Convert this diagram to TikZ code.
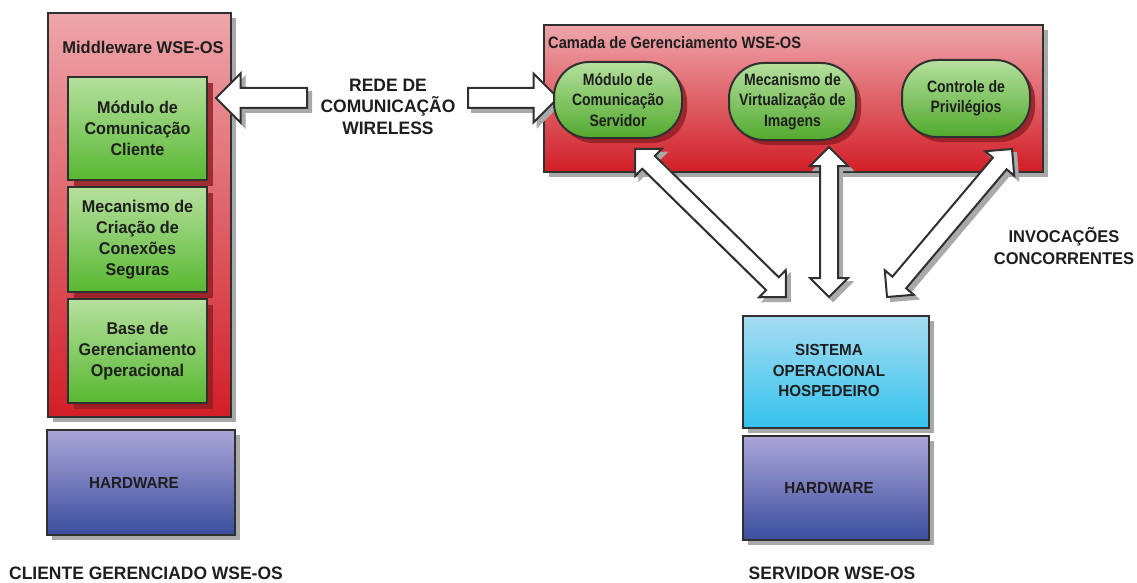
\documentclass[tikz,border=0pt]{standalone}
\usepackage{fontspec}
\setmainfont{Liberation Sans}
\usetikzlibrary{shapes.arrows,shadows,calc}

\definecolor{edge}{HTML}{303030}
\definecolor{ink}{HTML}{1E1E1E}
\definecolor{redtop}{HTML}{EDA6AB}
\definecolor{redbot}{HTML}{D21E27}
\definecolor{redshadow}{HTML}{8F1C22}
\definecolor{greentop}{HTML}{B6E09E}
\definecolor{greenbot}{HTML}{58B832}
\definecolor{bluetop}{HTML}{A6DDF0}
\definecolor{bluebot}{HTML}{35C2EE}
\definecolor{hwtop}{HTML}{ABA5D8}
\definecolor{hwbot}{HTML}{3A4E9E}
\definecolor{shadowgray}{HTML}{A9A9A9}

% bold face squeezed horizontally by #3
\newcommand\lblfont[3]{\fontsize{#1}{#2}\selectfont\bfseries\addfontfeature{FakeStretch=#3}}

% draws a white block arrow (with a flat grey shadow) from #3 to #4
\newcommand\blockarrow[4]{%
  \path let \p1=(#3), \p2=(#4),
            \n1={atan2(\y2-\y1,\x2-\x1)},
            \n2={veclen(\x2-\x1,\y2-\y1)} in
    node[#1, arrshade, minimum height=\n2, rotate=\n1] (#2-shadow) at ($(#3)!0.5!(#4)+(4,4)$) {}
    node[#1, arrface, minimum height=\n2, rotate=\n1] (#2) at ($(#3)!0.5!(#4)$) {};}

\tikzset{
  txt/.style={text=ink, font=\lblfont{17}{21}{0.96}, align=center, inner sep=0pt},
  layer/.style={draw=edge, line width=2pt, top color=redtop, bottom color=redbot,
    drop shadow={shadow xshift=5pt, shadow yshift=-5pt, fill=shadowgray, opacity=1}},
  module/.style={draw=edge, line width=2pt, top color=greentop, bottom color=greenbot,
    minimum width=139pt, text=ink, font=\lblfont{17}{21}{0.95}, align=center,
    drop shadow={shadow xshift=6pt, shadow yshift=-6pt, fill=redshadow, opacity=0.8}},
  service/.style={draw=edge, line width=2pt, top color=greentop, bottom color=greenbot!92!black,
    rounded corners=35pt, text=ink, align=center, font=\lblfont{16.5}{20.5}{0.85},
    drop shadow={shadow xshift=5pt, shadow yshift=-5pt, fill=redshadow, opacity=0.8}},
  hostos/.style={draw=edge, line width=2pt, top color=bluetop, bottom color=bluebot,
    drop shadow={shadow xshift=5pt, shadow yshift=-5pt, fill=shadowgray, opacity=1}},
  hardware/.style={draw=edge, line width=2pt, top color=hwtop, bottom color=hwbot,
    drop shadow={shadow xshift=5pt, shadow yshift=-5pt, fill=shadowgray, opacity=1}},
  boxtext/.style={text=ink, align=center, inner sep=0pt, font=\lblfont{16}{20.5}{0.95}},
  netarrow/.style={single arrow, single arrow head extend=14.5pt, single arrow tip angle=90,
    inner ysep=9pt, inner xsep=0pt, outer sep=0pt},
  callarrow/.style={double arrow, double arrow head extend=10pt, double arrow tip angle=90,
    inner ysep=8pt, inner xsep=0pt, outer sep=0pt},
  arrface/.style={draw=edge, line width=2pt, fill=white},
  arrshade/.style={draw=shadowgray, line width=2pt, fill=shadowgray},
}

\begin{document}
\begin{tikzpicture}[x=1pt, y=-1pt]
  \useasboundingbox (0,0) rectangle (1137,583);
  \fill[white] (0,0) rectangle (1137,583);

  % ---------- managed client ----------
  \node[layer, minimum width=183pt, minimum height=404pt] (mw) at (139.5,215) {};
  \node[txt, font=\lblfont{17}{21}{0.97}] (mwtitle) at (143,47) {Middleware WSE-OS};
  \node[module, minimum height=103pt] (cli) at (137.5,128.5) {Módulo de\\Comunicação\\Cliente};
  \node[module, minimum height=105pt] (sec) at (137.5,239.5) {Mecanismo de\\Criação de\\Conexões\\Seguras};
  \node[module, minimum height=104pt] (ops) at (137.5,351) {Base de\\Gerenciamento\\Operacional};
  \node[hardware, minimum width=188pt, minimum height=105pt] (hwc) at (141,482.5) {};
  \node[boxtext] (hwctext) at (134,483) {HARDWARE};
  \node[txt, font=\lblfont{18}{21}{0.97}] (client) at (146,573) {CLIENTE GERENCIADO WSE-OS};

  % ---------- server management layer ----------
  \node[layer, minimum width=499pt, minimum height=147pt] (mgmt) at (793.5,98.5) {};
  \node[txt, anchor=west, font=\lblfont{16.5}{20}{0.89}] (mgmttitle) at (548,43) {Camada de Gerenciamento WSE-OS};

  % ---------- wireless link ----------
  \coordinate (wlL) at (312,98);
  \coordinate (wlLtip) at (221,98);
  \coordinate (wlR) at (463,98);
  \coordinate (wlRtip) at (553,98);
  \blockarrow{netarrow}{netleft}{wlL}{wlLtip}
  \blockarrow{netarrow}{netright}{wlR}{wlRtip}
  \node[txt, font=\lblfont{18}{21.5}{0.97}] (net) at (388,106.5) {REDE DE\\COMUNICAÇÃO\\WIRELESS};

  % ---------- server services ----------
  \node[service, minimum width=128pt, minimum height=76pt] (srv) at (618,100) {Módulo de\\Comunicação\\Servidor};
  \node[service, minimum width=127pt, minimum height=77pt] (virt) at (792.5,101.5) {Mecanismo de\\Virtualização de\\Imagens};
  \node[service, minimum width=128pt, minimum height=77pt] (priv) at (966,98.5) {Controle de\\Privilégios};

  % ---------- host system ----------
  \node[hostos, minimum width=186pt, minimum height=112pt] (host) at (836,372) {};
  \node[boxtext] (hosttext) at (829,370.5) {SISTEMA\\OPERACIONAL\\HOSPEDEIRO};
  \node[hardware, minimum width=186pt, minimum height=104pt] (hws) at (836,488) {};
  \node[boxtext] (hwstext) at (829,488) {HARDWARE};
  \node[txt, font=\lblfont{18}{21}{0.97}] (server) at (832,573) {SERVIDOR WSE-OS};

  % ---------- concurrent invocations ----------
  \coordinate (c1a) at (635,149);
  \coordinate (c1b) at (786,297);
  \coordinate (c2a) at (829,147);
  \coordinate (c2b) at (829,297);
  \coordinate (c3a) at (1012,149);
  \coordinate (c3b) at (887,297);
  \blockarrow{callarrow}{call1}{c1a}{c1b}
  \blockarrow{callarrow}{call2}{c2a}{c2b}
  \blockarrow{callarrow}{call3}{c3a}{c3b}
  \node[txt, font=\lblfont{17}{22}{0.97}] (inv) at (1064,246) {INVOCAÇÕES\\CONCORRENTES};
\end{tikzpicture}
\end{document}
